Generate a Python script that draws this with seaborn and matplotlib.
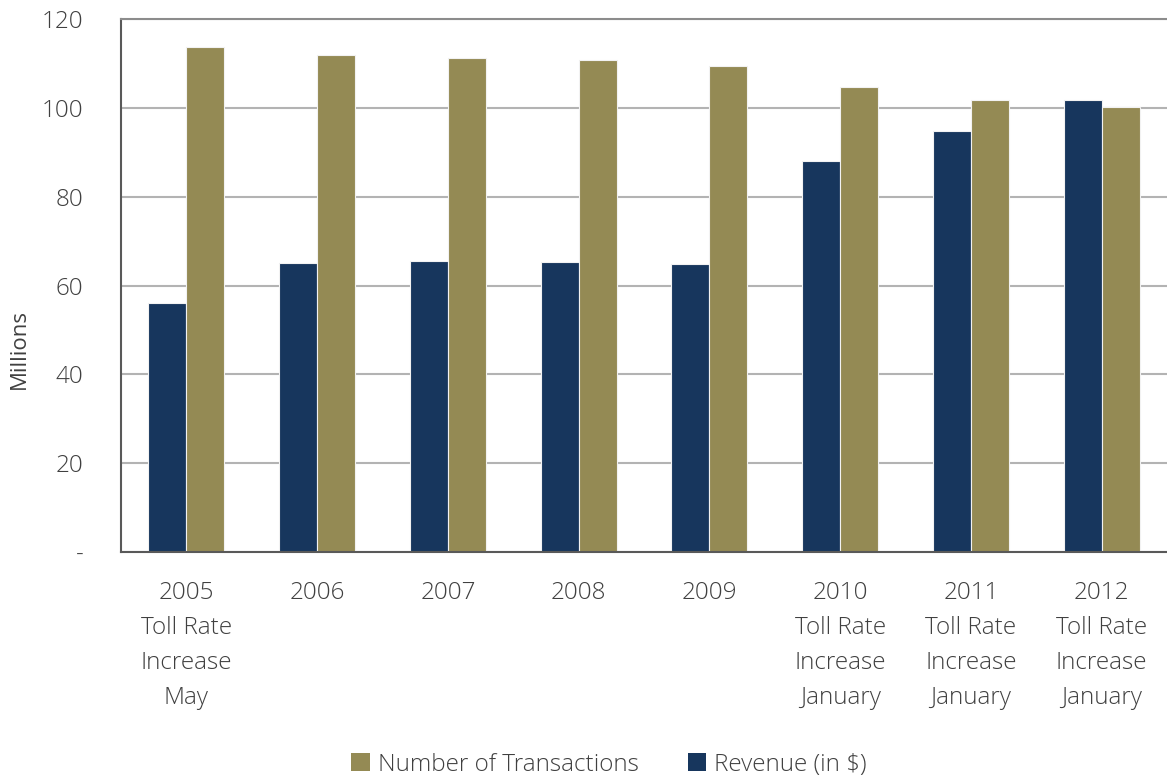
import matplotlib
matplotlib.use("Agg")
import matplotlib.pyplot as plt
from matplotlib.patches import Patch
import seaborn as sns
import pandas as pd

# Annual toll revenue and transaction counts (millions)
years = ["2005", "2006", "2007", "2008", "2009", "2010", "2011", "2012"]
tick_labels = [
    "2005\nToll Rate\nIncrease\nMay",
    "2006",
    "2007",
    "2008",
    "2009",
    "2010\nToll Rate\nIncrease\nJanuary",
    "2011\nToll Rate\nIncrease\nJanuary",
    "2012\nToll Rate\nIncrease\nJanuary",
]
revenue = [56.0, 65.1, 65.5, 65.3, 64.8, 88.0, 94.7, 101.7]
transactions = [113.6, 111.8, 111.3, 110.8, 109.4, 104.7, 101.7, 100.1]

series_revenue = "Revenue (in $)"
series_trans = "Number of Transactions"

df = pd.DataFrame({
    "year": years * 2,
    "value": revenue + transactions,
    "series": [series_revenue] * len(years) + [series_trans] * len(years),
})

navy = "#17365d"
olive = "#948a54"
text_color = "#404040"

sns.set_style("white")
plt.rcParams["font.family"] = ["Open Sans", "DejaVu Sans"]
plt.rcParams["font.weight"] = "light"

fig = plt.figure(figsize=(11.67, 7.77), dpi=100)
ax = fig.add_axes([0.1037, 0.2896, 0.8963, 0.6859])

sns.barplot(
    data=df, x="year", y="value", hue="series",
    hue_order=[series_revenue, series_trans],
    palette=[navy, olive], saturation=1, width=0.58, ax=ax,
    edgecolor="#f2f2f2", linewidth=0.8, legend=False,
)

ax.set_xlim(-0.5, len(years) - 0.5)
ax.set_ylim(0, 120)
ax.set_yticks([0, 20, 40, 60, 80, 100, 120])
ax.set_yticklabels(["-", "20", "40", "60", "80", "100", "120"])
ax.yaxis.grid(True, color="#b3b3b3", linewidth=1.5)
ax.set_axisbelow(True)

# Category labels at the centres, tick marks on the boundaries
ax.set_xticks(range(len(years)))
ax.set_xticklabels(tick_labels, linespacing=1.6)
ax.set_xticks([i - 0.5 for i in range(len(years) + 1)], minor=True)
ax.tick_params(axis="x", which="major", length=0, pad=21,
               labelsize=17.5, labelcolor=text_color)
ax.tick_params(axis="x", which="minor", length=9, width=1.2,
               color="#595959", direction="out")
ax.tick_params(axis="y", length=9, width=1.2, color="#595959",
               labelsize=17.5, labelcolor=text_color, pad=18, direction="out")

ax.spines["right"].set_visible(False)
ax.spines["top"].set_color("#8c8c8c")
ax.spines["top"].set_linewidth(1.5)
for side in ["left", "bottom"]:
    ax.spines[side].set_color("#595959")
    ax.spines[side].set_linewidth(1.5)

ax.set_xlabel("")
ax.set_ylabel("Millions", fontsize=16, color=text_color)
ax.yaxis.set_label_coords(-0.087, 0.38)

handles = [
    Patch(facecolor=olive, edgecolor="none", label=series_trans),
    Patch(facecolor=navy, edgecolor="none", label=series_revenue),
]
fig.legend(
    handles=handles, loc="center", bbox_to_anchor=(0.522, 0.016),
    ncol=2, frameon=False, fontsize=17.5, labelcolor=text_color,
    handlelength=0.75, handleheight=0.75, handletextpad=0.35,
    columnspacing=2.0,
)

fig.savefig("out.png", dpi=100)
